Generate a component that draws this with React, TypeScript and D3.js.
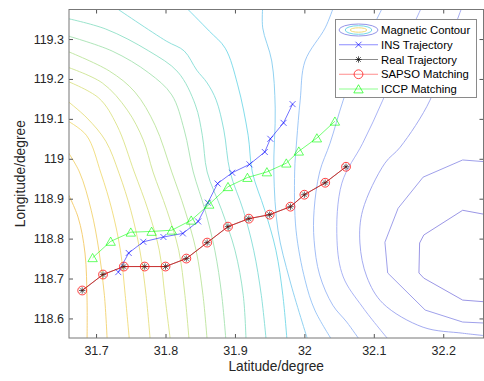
import React, { useEffect, useRef } from 'react'
import * as d3 from 'd3'

// tick values
const xTicks = [31.7, 31.8, 31.9, 32.0, 32.1, 32.2]
const yTicks = [118.6, 118.7, 118.8, 118.9, 119.0, 119.1, 119.2, 119.3]

// trajectories (lon = Latitude/degree axis, lat = Longitude/degree axis, as labelled)
const insLon = [31.732, 31.747, 31.768, 31.797, 31.825, 31.847, 31.861, 31.875, 31.896, 31.921, 31.943, 31.951, 31.970, 31.983]
const insLat = [118.716, 118.764, 118.792, 118.804, 118.813, 118.843, 118.890, 118.938, 118.965, 118.986, 119.017, 119.050, 119.090, 119.137]

const realLon = [31.68, 31.71, 31.74, 31.77, 31.80, 31.83, 31.86, 31.89, 31.92, 31.95, 31.98, 32.00, 32.03, 32.06]
const realLat = [118.67, 118.71, 118.73, 118.73, 118.73, 118.75, 118.79, 118.83, 118.85, 118.86, 118.88, 118.91, 118.94, 118.98]

const sapsoLon = [31.68, 31.71, 31.74, 31.77, 31.80, 31.83, 31.86, 31.89, 31.92, 31.95, 31.98, 32.00, 32.03, 32.06]
const sapsoLat = [118.67, 118.71, 118.73, 118.73, 118.73, 118.75, 118.79, 118.83, 118.85, 118.86, 118.88, 118.91, 118.94, 118.98]

const iccpLon = [31.695, 31.721, 31.750, 31.780, 31.809, 31.837, 31.863, 31.890, 31.918, 31.946, 31.974, 31.992, 32.018, 32.044]
const iccpLat = [118.752, 118.793, 118.816, 118.818, 118.821, 118.846, 118.886, 118.930, 118.953, 118.967, 118.989, 119.019, 119.052, 119.094]

// magnetic contour lines, highest level (left) first
const contourLines: number[][][] = [
  [[31.655, 118.929], [31.674, 118.854], [31.684, 118.764], [31.687, 118.646], [31.687, 118.545]],
  [[31.655, 119.029], [31.676, 118.967], [31.693, 118.871], [31.704, 118.771], [31.712, 118.658], [31.716, 118.545]],
  [[31.655, 119.099], [31.686, 119.059], [31.707, 118.964], [31.723, 118.871], [31.735, 118.771], [31.742, 118.658], [31.748, 118.545]],
  [[31.655, 119.150], [31.687, 119.102], [31.714, 119.044], [31.733, 118.964], [31.750, 118.871], [31.763, 118.771], [31.772, 118.658], [31.778, 118.545]],
  [[31.655, 119.197], [31.704, 119.152], [31.730, 119.084], [31.755, 118.967], [31.775, 118.871], [31.791, 118.771], [31.799, 118.658], [31.807, 118.545]],
  [[31.655, 119.232], [31.709, 119.190], [31.745, 119.122], [31.768, 119.047], [31.782, 118.967], [31.802, 118.871], [31.819, 118.771], [31.828, 118.658], [31.834, 118.545]],
  [[31.655, 119.272], [31.719, 119.220], [31.756, 119.167], [31.785, 119.084], [31.809, 118.967], [31.828, 118.871], [31.844, 118.771], [31.854, 118.658], [31.860, 118.545]],
  [[31.655, 119.310], [31.723, 119.270], [31.776, 119.215], [31.809, 119.160], [31.827, 119.072], [31.840, 118.967], [31.857, 118.871], [31.871, 118.771], [31.881, 118.658], [31.887, 118.545]],
  [[31.655, 119.353], [31.714, 119.325], [31.776, 119.270], [31.818, 119.217], [31.843, 119.135], [31.853, 119.059], [31.860, 118.967], [31.881, 118.871], [31.900, 118.771], [31.912, 118.658], [31.916, 118.545]],
  [[31.727, 119.380], [31.801, 119.295], [31.827, 119.270], [31.845, 119.222], [31.860, 119.190], [31.873, 119.147], [31.884, 119.072], [31.893, 118.967], [31.912, 118.871], [31.927, 118.771], [31.938, 118.658], [31.945, 118.545]],
  [[31.829, 119.380], [31.863, 119.320], [31.886, 119.277], [31.904, 119.185], [31.919, 119.059], [31.925, 118.967], [31.943, 118.871], [31.959, 118.771], [31.969, 118.658], [31.975, 118.545]],
  [[31.940, 119.380], [31.940, 119.328], [31.953, 119.245], [31.958, 119.127], [31.956, 118.967], [31.962, 118.821], [31.979, 118.696], [32.005, 118.545]],
  [[32.042, 119.380], [32.030, 119.328], [32.001, 119.245], [31.994, 119.147], [31.989, 119.047], [31.986, 118.967], [31.988, 118.821], [32.001, 118.696], [32.015, 118.621], [32.040, 118.545]],
  [[32.113, 119.380], [32.080, 119.260], [32.056, 119.147], [32.037, 119.039], [32.022, 118.967], [32.014, 118.871], [32.014, 118.796], [32.022, 118.709], [32.041, 118.633], [32.061, 118.591], [32.080, 118.545]],
  [[32.169, 119.380], [32.138, 119.260], [32.113, 119.147], [32.084, 119.039], [32.054, 118.939], [32.047, 118.796], [32.056, 118.704], [32.084, 118.628], [32.122, 118.545]],
  [[32.227, 119.380], [32.202, 119.260], [32.181, 119.147], [32.138, 119.029], [32.116, 118.989], [32.084, 118.871], [32.080, 118.789], [32.090, 118.704], [32.113, 118.638], [32.171, 118.578], [32.228, 118.563], [32.265, 118.556]],
  [[32.265, 118.992], [32.228, 118.997], [32.171, 118.954], [32.135, 118.876], [32.116, 118.791], [32.120, 118.714], [32.174, 118.621], [32.228, 118.591], [32.265, 118.588]],
  [[32.265, 118.859], [32.228, 118.871], [32.172, 118.809], [32.166, 118.789], [32.165, 118.714], [32.172, 118.701], [32.228, 118.646], [32.265, 118.641]],
]

const legendLabels = ['Magnetic Contour', 'INS Trajectory', 'Real Trajectory', 'SAPSO Matching', 'ICCP Matching']

const W = 484
const H = 381
const font = 'Liberation Sans, Arial, sans-serif'

const App = () => {
  const ref = useRef<SVGSVGElement>(null)

  useEffect(() => {
    const svg = d3.select(ref.current)
    svg.selectAll('*').remove()

    const left = 69, right = 483.5, top = 9.5, bottom = 338

    const x = d3.scaleLinear().domain([31.661, 32.258]).range([left, right])
    const y = d3.scaleLinear().domain([118.551, 119.374]).range([bottom, top])

    // contour colours, yellow (high) to blue (low)
    const color = d3
      .scaleLinear<string>()
      .domain([0, 2, 4, 6, 8, 10, 12, 14, 17])
      .range(['#f4c965', '#f0db78', '#dde388', '#bce49c', '#8fe0c6', '#74d8e8', '#93c2f6', '#a0acf4', '#8e8ae2'])
      .interpolate(d3.interpolateRgb)

    svg.append('rect').attr('width', W).attr('height', H).attr('fill', '#fff')

    svg
      .append('defs')
      .append('clipPath')
      .attr('id', 'plot-area')
      .append('rect')
      .attr('x', left)
      .attr('y', top)
      .attr('width', right - left)
      .attr('height', bottom - top)

    const plot = svg.append('g').attr('clip-path', 'url(#plot-area)')

    const line = d3
      .line<number[]>()
      .x((d) => x(d[0]))
      .y((d) => y(d[1]))

    const smooth = d3
      .line<number[]>()
      .x((d) => x(d[0]))
      .y((d) => y(d[1]))
      .curve(d3.curveCatmullRom.alpha(0.5))

    plot
      .selectAll('.contour')
      .data(contourLines)
      .enter()
      .append('path')
      .attr('class', 'contour')
      .attr('d', (d, i) => (i >= 16 ? line(d) : smooth(d)))
      .attr('fill', 'none')
      .attr('stroke', (d, i) => color(i))
      .attr('stroke-width', 0.9)

    const pts = (lon: number[], lat: number[]) => lon.map((v, i) => [v, lat[i]])

    const ins = pts(insLon, insLat)
    const real = pts(realLon, realLat)
    const sapso = pts(sapsoLon, sapsoLat)
    const iccp = pts(iccpLon, iccpLat)

    const crossPath = 'M-3,-3L3,3M-3,3L3,-3'
    const starPath = 'M-3.2,0H3.2M0,-3.2V3.2M-2.3,-2.3L2.3,2.3M-2.3,2.3L2.3,-2.3'
    const triPath = 'M0,-4.3L4.7,3.9L-4.7,3.9Z'

    // INS
    plot.append('path').attr('d', line(ins)).attr('fill', 'none').attr('stroke', '#0000ff').attr('stroke-opacity', 0.55)
    plot
      .selectAll('.ins')
      .data(ins)
      .enter()
      .append('path')
      .attr('class', 'ins')
      .attr('transform', (d) => `translate(${x(d[0])},${y(d[1])})`)
      .attr('d', crossPath)
      .attr('stroke', '#0000ff')
      .attr('stroke-opacity', 0.6)

    // Real
    plot.append('path').attr('d', line(real)).attr('fill', 'none').attr('stroke', '#000').attr('stroke-opacity', 0.5)
    plot
      .selectAll('.real')
      .data(real)
      .enter()
      .append('path')
      .attr('class', 'real')
      .attr('transform', (d) => `translate(${x(d[0])},${y(d[1])})`)
      .attr('d', starPath)
      .attr('stroke', '#000')
      .attr('stroke-opacity', 0.6)

    // SAPSO
    plot.append('path').attr('d', line(sapso)).attr('fill', 'none').attr('stroke', '#ff0000').attr('stroke-opacity', 0.6)
    plot
      .selectAll('.sapso')
      .data(sapso)
      .enter()
      .append('circle')
      .attr('class', 'sapso')
      .attr('cx', (d) => x(d[0]))
      .attr('cy', (d) => y(d[1]))
      .attr('r', 4.4)
      .attr('fill', 'none')
      .attr('stroke', '#ff0000')
      .attr('stroke-opacity', 0.75)

    // ICCP
    plot.append('path').attr('d', line(iccp)).attr('fill', 'none').attr('stroke', '#00ff00').attr('stroke-opacity', 0.55)
    plot
      .selectAll('.iccp')
      .data(iccp)
      .enter()
      .append('path')
      .attr('class', 'iccp')
      .attr('transform', (d) => `translate(${x(d[0])},${y(d[1])})`)
      .attr('d', triPath)
      .attr('fill', 'none')
      .attr('stroke', '#00ff00')
      .attr('stroke-opacity', 0.6)

    // axes
    const fmt = (d: d3.NumberValue) => String(+(+d).toFixed(1))
    const styleAxis = (g: d3.Selection<SVGGElement, unknown, null, undefined>) => {
      g.select('.domain').remove()
      g.selectAll('line').attr('stroke', '#555')
      g.selectAll('text').attr('fill', '#262626').attr('font-size', 12.5).attr('font-family', font)
    }

    svg
      .append('g')
      .attr('transform', `translate(0,${bottom})`)
      .call(d3.axisBottom(x).tickValues(xTicks).tickFormat(fmt).tickSizeInner(-4).tickSizeOuter(0).tickPadding(7.8))
      .call(styleAxis)
    svg
      .append('g')
      .attr('transform', `translate(0,${top})`)
      .call(d3.axisTop(x).tickValues(xTicks).tickFormat(() => '').tickSizeInner(-4).tickSizeOuter(0))
      .call(styleAxis)
    svg
      .append('g')
      .attr('transform', `translate(${left},0)`)
      .call(d3.axisLeft(y).tickValues(yTicks).tickFormat(fmt).tickSizeInner(-4).tickSizeOuter(0).tickPadding(5))
      .call(styleAxis)
    svg
      .append('g')
      .attr('transform', `translate(${right},0)`)
      .call(d3.axisRight(y).tickValues(yTicks).tickFormat(() => '').tickSizeInner(-4).tickSizeOuter(0))
      .call(styleAxis)

    svg
      .append('rect')
      .attr('x', left)
      .attr('y', top)
      .attr('width', right - left)
      .attr('height', bottom - top)
      .attr('fill', 'none')
      .attr('stroke', '#777')
      .attr('stroke-width', 1)

    svg
      .append('text')
      .attr('x', (left + right) / 2)
      .attr('y', 371)
      .attr('text-anchor', 'middle')
      .attr('font-size', 13.75)
      .attr('font-family', font)
      .attr('fill', '#262626')
      .text('Latitude/degree')

    svg
      .append('text')
      .attr('transform', `translate(25,${(top + bottom) / 2}) rotate(-90)`)
      .attr('text-anchor', 'middle')
      .attr('font-size', 13.75)
      .attr('font-family', font)
      .attr('fill', '#262626')
      .text('Longitude/degree')

    // legend
    const lg = svg.append('g')
    lg.append('rect')
      .attr('x', 335.5)
      .attr('y', 19.5)
      .attr('width', 141)
      .attr('height', 78)
      .attr('fill', '#fff')
      .attr('stroke', '#8a8a8a')

    const rowY = (i: number) => 30 + i * 14.75
    const sx0 = 339, sx1 = 378, mx = 358.5

    const ell = lg.append('g').attr('transform', `translate(${mx},${rowY(0)})`)
    ell.append('ellipse').attr('rx', 19.5).attr('ry', 6).attr('fill', 'none').attr('stroke', color(16))
    ell.append('ellipse').attr('rx', 13.3).attr('ry', 4.3).attr('fill', 'none').attr('stroke', color(10))
    ell.append('ellipse').attr('rx', 8.3).attr('ry', 2.2).attr('fill', 'none').attr('stroke', color(2))

    const legendStyles = [
      { stroke: '#0000ff', op: 0.45, marker: crossPath },
      { stroke: '#000', op: 0.45, marker: starPath },
      { stroke: '#ff0000', op: 0.45, marker: 'circle' },
      { stroke: '#00ff00', op: 0.45, marker: triPath },
    ]
    legendStyles.forEach((s, k) => {
      const yy = rowY(k + 1)
      lg.append('line').attr('x1', sx0).attr('x2', sx1).attr('y1', yy).attr('y2', yy).attr('stroke', s.stroke).attr('stroke-opacity', s.op)
      if (s.marker === 'circle') {
        lg.append('circle').attr('cx', mx).attr('cy', yy).attr('r', 4.4).attr('fill', 'none').attr('stroke', s.stroke).attr('stroke-opacity', 0.7)
      } else {
        lg.append('path')
          .attr('transform', `translate(${mx},${yy})`)
          .attr('d', s.marker)
          .attr('fill', 'none')
          .attr('stroke', s.stroke)
          .attr('stroke-opacity', 0.65)
      }
    })

    lg.selectAll('.legend-text')
      .data(legendLabels)
      .enter()
      .append('text')
      .attr('class', 'legend-text')
      .attr('x', 381)
      .attr('y', (d, i) => rowY(i) + 4)
      .attr('font-size', 11.3)
      .attr('font-family', font)
      .attr('fill', '#000')
      .text((d) => d)

    return () => {
      svg.selectAll('*').remove()
    }
  }, [])

  return <svg ref={ref} width={W} height={H} style={{ position: 'absolute', left: 0, top: 0 }} />
}

export default App
